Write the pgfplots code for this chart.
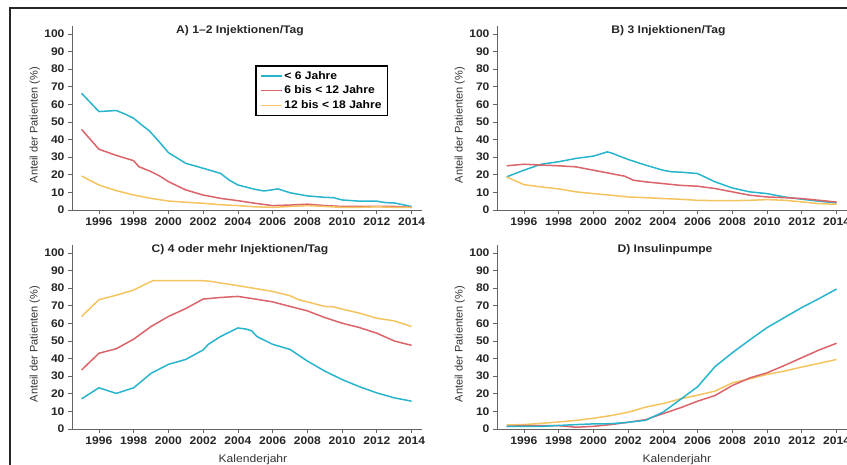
\documentclass[border=0pt]{standalone}
\usepackage{pgfplots}
\pgfplotsset{compat=1.18}
\usepackage{fontspec}
\setmainfont{Liberation Sans}[FakeStretch=1.1]
\newfontfamily\plainfont{Liberation Sans}
\definecolor{cBlue}{RGB}{40,180,205}
\definecolor{cRed}{RGB}{218,100,105}
\definecolor{cYel}{RGB}{245,195,95}
\definecolor{axgray}{RGB}{100,100,100}
\pgfplotsset{
  panel/.style={
    scale only axis, width=350pt, height=184pt,
    xmin=1994.45, xmax=2014.6, ymin=0, ymax=104.5,
    axis x line=bottom, axis y line=left,
    axis line style={-, axgray, line width=0.7pt},
    xtick={1996,1998,...,2014}, ytick={0,10,...,100},
    tick align=outside, major tick length=4pt,
    tick style={axgray, line width=0.7pt},
    ticklabel style={font=\fontsize{11}{13}\selectfont\bfseries, text=black!85},
    /pgf/number format/1000 sep={},
    /pgf/number format/assume math mode=true,
    ylabel={Anteil der Patienten (\%)},
    ylabel style={at={(axis description cs:-0.106,0.462)}, anchor=center, font=\plainfont\fontsize{11}{13}\selectfont, text=black!80},
    xlabel style={at={(axis description cs:0.517,-0.168)}, anchor=center, font=\fontsize{11}{13}\selectfont, text=black!80},
    clip=false,
  },
  bl/.style={cBlue, line width=1.5pt},
  rd/.style={cRed, line width=1.5pt},
  yl/.style={cYel, line width=1.5pt},
}
\newcommand{\ptitle}[2]{\node[font=\fontsize{11}{13}\selectfont\bfseries, text=black!85] at (rel axis cs:#1,0.973) {#2};}
\begin{document}
\begin{tikzpicture}[x=1pt,y=1pt]
% Panel A
\begin{axis}[panel, at={(72pt,255pt)}, anchor=south west,
  legend style={at={(0.523,0.788)}, anchor=north west, draw=black, line width=1.6pt,
    font=\fontsize{11}{12}\selectfont\bfseries, inner xsep=4pt, inner ysep=3.5pt, row sep=1.2pt},
  legend cell align=left,
  legend image code/.code={\draw[#1, line width=1.5pt] (0pt,0pt) -- (21pt,0pt);}]
\addplot[bl] coordinates {(1995,66.3)(1996,55.9)(1997,56.5)(1997.5,54.5)(1998,52.1)(1998.5,48)(1998.9,45)(1999.5,38.4)(2000,32.6)(2001,26.5)(2002,23.7)(2003,20.8)(2003.5,17)(2004,14.2)(2005,11.7)(2005.5,10.8)(2006,11.5)(2006.3,12)(2007,9.8)(2008,8)(2009,7.2)(2009.5,7)(2010,5.7)(2011,5)(2012,5)(2012.5,4.2)(2013,4)(2014,2)};
\addlegendentry{< 6 Jahre}
\addplot[rd] coordinates {(1995,45.8)(1996,34.5)(1997,31)(1998,28)(1998.3,24.6)(1999,21.8)(1999.5,19.3)(2000,16.1)(2001,11.4)(2002,8.5)(2003,6.6)(2004,5.3)(2005,3.8)(2006,2.5)(2007,2.8)(2008,3.3)(2009,2.5)(2010,2)(2011,2)(2012,2)(2013,2)(2014,1.5)};
\addlegendentry{6 bis < 12 Jahre}
\addplot[yl] coordinates {(1995,19.3)(1996,14.2)(1997,11)(1998,8.5)(1999,6.6)(2000,5.1)(2001,4.4)(2002,3.8)(2003,3)(2004,2.5)(2005,1.8)(2006,1.5)(2007,2)(2008,2.5)(2009,2)(2010,1.5)(2011,1.5)(2012,1.8)(2013,1.5)(2014,1.5)};
\addlegendentry{12 bis < 18 Jahre}
\ptitle{0.48}{A) 1–2 Injektionen/Tag}
\end{axis}
% Panel B
\begin{axis}[panel, at={(497pt,255pt)}, anchor=south west]
\addplot[bl] coordinates {(1995,18.8)(1996,22.6)(1997,26)(1998,27.4)(1999,29.3)(2000,30.6)(2000.8,33)(2001,32.5)(2002,28.7)(2003,25.5)(2004,22.6)(2004.5,21.7)(2005,21.5)(2006,20.7)(2007,16)(2008,12.5)(2009,10.3)(2010,9.3)(2011,7.4)(2012,6.1)(2013,5)(2014,4)};
\addplot[rd] coordinates {(1995,25.1)(1996,26)(1997,25.5)(1998,25.1)(1999,24.5)(2000,22.6)(2001,20.7)(2001.8,19.2)(2002.3,16.9)(2003,16)(2004,15)(2005,14)(2006,13.5)(2007,12.2)(2008,10.3)(2009,8.4)(2010,7.4)(2011,7)(2012,6.5)(2013,5.5)(2014,4.5)};
\addplot[yl] coordinates {(1995,18.8)(1996,14.4)(1997,13.1)(1998,12)(1999,10.3)(2000,9.3)(2001,8.4)(2002,7.4)(2003,7)(2004,6.5)(2005,6.1)(2006,5.5)(2007,5.3)(2008,5.3)(2009,5.5)(2010,5.9)(2011,5.5)(2012,4.6)(2013,3.6)(2014,3.2)};
\ptitle{0.49}{B) 3 Injektionen/Tag}
\end{axis}
% Panel C
\begin{axis}[panel, at={(72pt,36pt)}, anchor=south west, xlabel={Kalenderjahr}]
\addplot[bl] coordinates {(1995,17.1)(1996,23.4)(1997,20.2)(1998,23.4)(1999,31.6)(2000,36.7)(2001,39.5)(2002,44.9)(2002.3,48.1)(2003,52.5)(2004,57.4)(2004.5,56.7)(2004.8,55.7)(2005.1,52.5)(2006,48.1)(2007,45.2)(2008,38.6)(2009,32.9)(2010,28.1)(2011,24)(2012,20.5)(2013,17.7)(2014,15.8)};
\addplot[rd] coordinates {(1995,33.5)(1996,43)(1997,45.6)(1998,51)(1999,58.2)(2000,63.9)(2001,68.4)(2002,73.8)(2003,74.7)(2004,75.3)(2005,73.8)(2006,72.2)(2007,69.6)(2008,67.1)(2009,63.3)(2010,60.1)(2011,57.6)(2012,54.4)(2013,50)(2014,47.5)};
\addplot[yl] coordinates {(1995,63.9)(1996,73.4)(1997,76)(1998,78.9)(1998.5,81.4)(1999.1,84.2)(2000,84.2)(2001,84.2)(2002,84.2)(2002.5,83.8)(2003,82.9)(2004,81.4)(2005,79.8)(2006,78.1)(2007,75.7)(2007.5,73.4)(2008,72.2)(2009,69.6)(2009.5,69.4)(2010,68.1)(2011,65.8)(2012,62.9)(2013,61.4)(2014,58.2)};
\ptitle{0.48}{C) 4 oder mehr Injektionen/Tag}
\end{axis}
% Panel D
\begin{axis}[panel, at={(497pt,36pt)}, anchor=south west, xlabel={Kalenderjahr},
  xlabel style={at={(axis description cs:0.514,-0.168)}}]
\addplot[yl] coordinates {(1995,2.3)(1996,2.5)(1997,3.2)(1998,4)(1999,4.9)(2000,6.1)(2001,7.6)(2002,9.5)(2003,12.4)(2004,14.4)(2005,17.1)(2006,19.2)(2007,21.5)(2008,26.2)(2009,28.5)(2010,31)(2011,32.9)(2012,35.2)(2013,37.3)(2014,39.5)};
\addplot[rd] coordinates {(1995,1.5)(1996,1.9)(1997,1.9)(1998,1.9)(1999,1)(2000,1.5)(2001,2.5)(2002,3.8)(2003,5.3)(2004,8.7)(2005,12)(2006,15.8)(2007,19)(2008,24.7)(2009,29)(2010,31.9)(2011,36.1)(2012,40.5)(2013,44.9)(2014,48.7)};
\addplot[bl] coordinates {(1995,1.5)(1996,1.5)(1997,1.5)(1998,2)(1999,2.5)(2000,2.9)(2001,3)(2002,3.8)(2003,4.9)(2004,9.5)(2005,16.7)(2006,24)(2007,35.4)(2008,43.3)(2009,50.6)(2010,57.6)(2011,63.3)(2012,69)(2013,74.1)(2014,79.5)};
\ptitle{0.48}{D) Insulinpumpe}
\end{axis}
% frame
\draw[line width=2pt, black!85] (10pt,-5pt) -- (10pt,457pt) -- (860pt,457pt);
\pgfresetboundingbox
\useasboundingbox (0pt,0pt) rectangle (847pt,465pt);
\end{tikzpicture}
\end{document}
